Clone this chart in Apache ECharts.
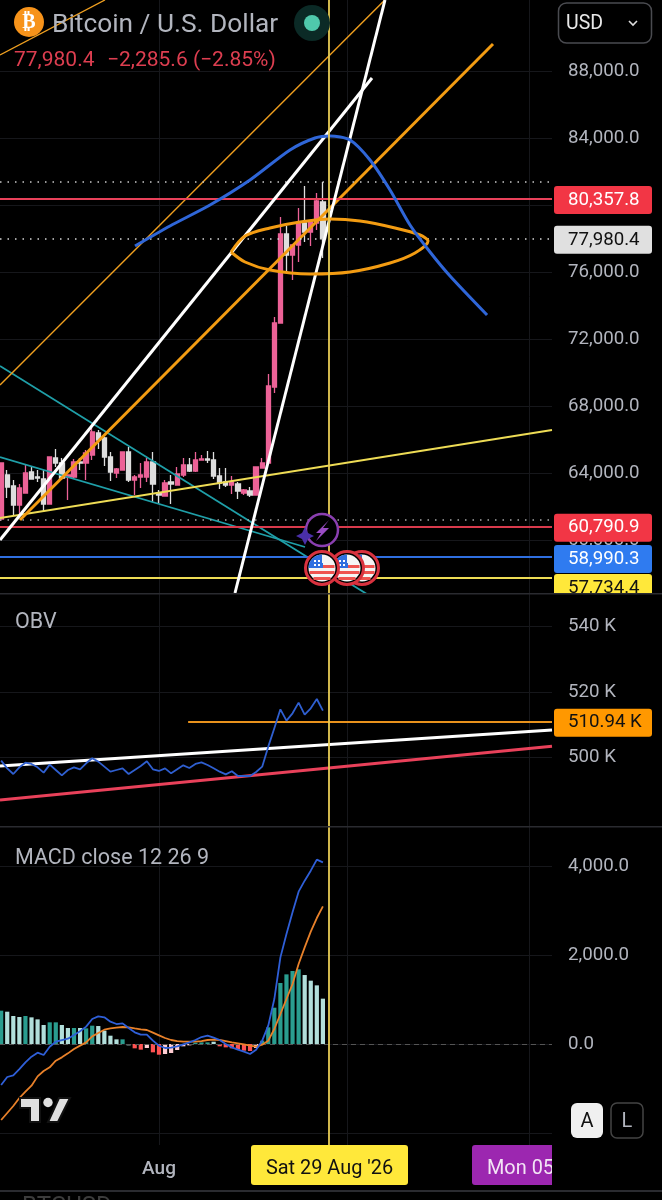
<!DOCTYPE html>
<html><head><meta charset="utf-8">
<script src="https://cdn.jsdelivr.net/npm/echarts@6/dist/echarts.min.js"></script>
<style>html,body{margin:0;padding:0;background:#000}#c{width:662px;height:1200px}</style>
</head><body><div id="c"></div>
<script>
// Day numbers: 0 = 1 Aug 2026
const firstDay = -26;
// [open, close, low, high]
const candles = [
[61254,64597,61130,64597],[63881,63164,62507,64179],[63224,62090,61493,63582],[62090,63105,61493,63343],
[62806,64000,62806,64478],[64060,63642,63642,64358],[63761,63702,63463,64179],[63642,62149,61672,64179],
[62149,64955,62149,64955],[64896,64597,64358,65433],[64597,63702,63582,64896],[63761,63881,62388,63881],
[63761,64657,63702,64836],[64657,64597,64179,64896],[64597,65194,63582,65373],[65075,66448,64776,66746],
[66388,65970,65433,66567],[66090,64955,64418,66149],[64955,64060,63522,65254],[64000,64239,63702,64299],
[64179,65254,64179,65254],[65254,63582,63463,65552],[63582,63761,62687,63881],[63761,63881,63105,64597],
[63761,64657,63463,64896],[64657,63343,62269,65254],[62806,62687,62149,62985],[62627,63403,62627,63582],
[63463,63343,62149,63881],[63284,63940,63284,64358],[63881,64478,63761,64896],[64478,64119,64060,64896],
[64119,64776,64060,65254],[64776,64836,64776,65075],[64836,64776,64597,65313],[64776,63821,63642,65254],
[63821,63403,63045,64299],[63463,63284,63164,64299],[63284,63463,62746,63821],[63343,62925,62448,63463],
[62806,62985,62687,63045],[62925,62687,62567,63164],[62687,64358,62687,64358],[64299,64597,64299,64896],
[64597,69194,64597,69910],[69134,72955,68776,73313],[72955,78268,72955,79283],[78268,77015,75940,78746],
[77015,77612,75522,77612],[77612,78925,76597,79821],[78925,78388,77791,81134],[78388,78985,77552,79104],
[78925,80238,78507,80716],[80178,77980,76836,81373]];
const obv = [499.03,496.69,494.96,497.0,498.42,498.02,497.0,495.37,497.81,496.18,494.55,496.18,497.0,496.39,498.22,499.75,
498.73,497.2,495.67,496.18,496.69,494.96,496.18,497.4,498.83,496.39,495.88,496.69,495.16,496.39,497.61,496.79,498.02,498.52,
497.71,496.69,495.67,494.86,495.78,494.35,494.35,494.35,495.57,497.2,503.31,508.9,514.71,511.25,513.49,516.74,513.08,515.0,517.86,514.3];
const hist = [749,726,629,607,629,599,554,427,487,487,427,360,360,360,352,412,404,300,187,105,105,-30,-97,-127,-90,-187,-240,-225,
-202,-135,-52,-30,30,37,37,52,-52,-75,-97,-127,-150,-157,-90,75,375,816,1371,1565,1640,1678,1550,1423,1318,1019];
// d = saturated teal, l = pale teal, r = saturated red, p = pale red
const histShade = ['d','l','l','l','d','l','l','l','d','d','l','l','d','l','d','d','l','l','l','l','d',
'l','r','r','p','r','r','p','p','p','p','p','d','d','d','l','r','r','r','r','r','r','p','d','d','d','d','d','d','d','l','l','l','l'];
const macdLine = [-921,-741,-704,-562,-412,-285,-195,-247,-60,52,90,120,202,285,390,562,622,599,502,449,464,360,262,210,210,75,-37,-90,
-82,-52,-7,37,90,157,187,142,90,0,-75,-127,-172,-225,-127,75,412,1011,1947,2472,2958,3423,3670,3895,4142,4082];
const signalLine = [-1708,-1550,-1393,-1213,-1071,-936,-727,-607,-524,-375,-300,-210,-112,-37,37,172,247,322,352,367,382,375,352,330,315,255,
195,135,90,67,52,52,52,67,90,97,90,67,37,15,-7,-37,-60,-15,75,337,674,1011,1348,1798,2172,2524,2831,3093];

const priceTicks = [88000,84000,80000,76000,72000,68000,64000,60000];
const obvTicks = [540,520,500];
const macdGridTicks = [4000,2000,0,-2000];
const macdLabelTicks = [4000,2000,0];
const monthDays = [0,31,61];
const monthLabels = ['Aug','Sep','Oct'];
const crossDay = 28;

// drawn trend lines: [day, price] end points
const thinOrangeA = [[-26.19,88955],[-8.9,92238]];
const thinOrangeB = [[-26.19,69254],[37.2,92238]];
const thickOrange = [[-22.9,61194],[55.02,89611]];
const whiteA = [[-26.19,60000],[35.09,87581]];
const whiteB = [[12.52,56836],[37.23,92238]];
const cyanA = [[-26.19,70388],[34.76,56657]];
const cyanB = [[-26.19,64955],[24.05,59582]];
const yellowTrend = [[-26.19,61314],[64.74,66567]];
const blueArc = [[-3.95,77552],[1.81,78746],[8.4,80000],[14.99,81492],[21.58,83283],[25.7,83999],[28.17,84119],[31.47,83880],
[34.76,82686],[38.06,80895],[41.35,78806],[44.65,77194],[47.94,75761],[54.04,73433]];
const ellipse = [[11.86,77194],[14.17,78149],[18.29,78627],[23.23,78985],[28.17,79164],[33.11,79044],[38.88,78627],[43.0,78209],
[44.32,77850],[42.17,77134],[38.06,76537],[31.47,76000],[24.88,75880],[18.29,76119],[14.17,76597],[11.86,77194]];
const obvWhite = [[-26.19,497.4],[64.74,508.4]];
const obvRed = [[-26.19,487.0],[64.74,503.4]];
const obvOrangeStart = 4.8;

const lastPrice = 77980.4, redUpper = 80357.8, redLower = 60790.9, bluePrice = 58990.3, yellowPrice = 57734.4, obvLast = 510.94;
const rangeHigh = 81373, rangeLow = 61200;

const xMin = -26.19, xMax = 64.74;
const FONT = 'Roboto';
const fmt1 = v => v.toLocaleString('en-US',{minimumFractionDigits:1,maximumFractionDigits:1});
const withDay = a => a.map((v,i)=>[firstDay+i,v]);

const shadeColor = {d:'#2a9d8f',l:'#b2dfdb',r:'#ff5252',p:'#ffcdd2'};
const GRID = '#16171b';
const CROSS = '#e8cc55';

function xAxis(gi, showLabel){
  return {type:'value',gridIndex:gi,min:xMin,max:xMax,
    axisLine:{show:false},axisTick:{show:false,customValues:monthDays},
    splitLine:{show:true,lineStyle:{color:GRID,width:1}},
    axisLabel:{show:showLabel,customValues:[0],margin:15,color:'#b2b5be',fontFamily:FONT,fontSize:19,fontWeight:500,
      formatter:v=>monthLabels[monthDays.indexOf(v)]||''}};
}
function yAxis(gi,min,max,ticks,labelTicks,f){
  return {type:'value',gridIndex:gi,position:'right',min,max,scale:true,
    axisLine:{show:false},axisTick:{show:false,customValues:ticks},
    splitLine:{show:true,lineStyle:{color:GRID,width:1}},
    axisLabel:{customValues:labelTicks,margin:16,color:'#b2b5be',fontFamily:FONT,fontSize:18.7,padding:[7,0,0,0],formatter:f}};
}
function line(data,color,width,gi,opt){
  return Object.assign({type:'line',xAxisIndex:gi,yAxisIndex:gi,data,showSymbol:false,symbol:'none',silent:true,animation:false,
    lineStyle:{color,width},z:6},opt||{});
}
function tag(text,bg,fg,dy){
  return {show:true,position:'end',distance:2,offset:[0,dy||1],formatter:text,backgroundColor:bg,color:fg,fontFamily:FONT,fontSize:18.7,
    padding:[6,9,5,14],width:75,borderRadius:3,lineHeight:17};
}
function hline(gi,value,color,width,type,text,bg,fg,dy){
  return {type:'line',xAxisIndex:gi,yAxisIndex:gi,data:[],silent:true,animation:false,z:7,
    markLine:{silent:true,symbol:'none',animation:false,z:7,precision:2,
      lineStyle:{color,width,type},
      label:text?tag(text,bg,fg,dy):{show:false},
      data:[{yAxis:value}]}};
}
function crosshair(gi){
  return {type:'line',xAxisIndex:gi,yAxisIndex:gi,data:[],silent:true,animation:false,z:20,
    markLine:{silent:true,symbol:'none',animation:false,z:20,lineStyle:{color:CROSS,width:1.8,type:'solid'},label:{show:false},data:[{xAxis:crossDay}]}};
}

const series = [
  {type:'candlestick',xAxisIndex:0,yAxisIndex:0,barWidth:4.8,silent:true,animation:false,z:3,
    encode:{x:0,y:[1,2,3,4]},
    data:candles.map((c,i)=>[firstDay+i].concat(c)),
    itemStyle:{color:'#ec6297',color0:'#dedede',borderColor:'#ec6297',borderColor0:'#dedede',borderWidth:1.3}},
  hline(0,rangeHigh,'#c8c8c8',1.5,[1.5,6]),
  hline(0,rangeLow,'#a8a8a8',1.5,[1.5,6]),
  hline(0,yellowPrice,'#eedc55',1.8,'solid',fmt1(yellowPrice),'#ffe83a','#111',10),
  hline(0,bluePrice,'#2f6fe0',1.8,'solid',fmt1(bluePrice),'#2f7bf0','#fff',2),
  hline(0,redLower,'#d83a4c',1.8,'solid',fmt1(redLower),'#f23645','#fff',1),
  hline(0,redUpper,'#e9415a',1.8,'solid',fmt1(redUpper),'#f23645','#fff',1),
  hline(0,lastPrice,'#d8d8d8',1.5,[1.5,6],fmt1(lastPrice),'#e0e0e0','#111',1),
  line(cyanA,'#1f9fa8',1.8,0),
  line(cyanB,'#1f9fa8',1.8,0),
  line(yellowTrend,'#eedc55',1.8,0),
  line(thinOrangeA,'#f0a020',1.4,0),
  line(thinOrangeB,'#f0a020',1.4,0),
  line(thickOrange,'#f39c12',3,0),
  line(whiteA,'#ffffff',3,0,{z:8}),
  line(whiteB,'#ffffff',3,0,{z:8}),
  line(ellipse,'#f39c12',3,0,{smooth:0.3,z:8}),
  line(blueArc,'#2f66d8',3,0,{smooth:0.25,z:8}),
  crosshair(0),

  line(withDay(obv),'#2f5fd0',1.8,1,{z:9}),
  line(obvWhite,'#ffffff',3,1),
  line(obvRed,'#e9415a',3,1),
  {type:'line',xAxisIndex:1,yAxisIndex:1,data:[],silent:true,animation:false,z:7,
    markLine:{silent:true,symbol:'none',animation:false,z:7,lineStyle:{color:'#e8921c',width:1.8,type:'solid'},
      label:tag(obvLast+' K','#ff9800','#111',1),
      data:[[{coord:[obvOrangeStart,obvLast]},{coord:[xMax,obvLast]}]]}},
  crosshair(1),

  {type:'bar',xAxisIndex:2,yAxisIndex:2,barWidth:4.2,silent:true,animation:false,z:3,
    data:hist.map((v,i)=>({value:[firstDay+i,v],itemStyle:{color:shadeColor[histShade[i]]}}))},
  hline(2,0,'#555',1,[5,4]),
  line(withDay(signalLine),'#e8812a',1.8,2,{z:7}),
  line(withDay(macdLine),'#2f5fd8',1.8,2,{z:8}),
  crosshair(2)
];

// ---- page furniture (not data marks) ----
const txt = (x,y,text,fill,size,extra)=>({type:'text',x,y,z:50,silent:true,style:Object.assign({text,fill,font:`${size}px ${FONT}`,textVerticalAlign:'middle'},extra||{})});
const rect = (x,y,w,h,fill,r,extra)=>({type:'rect',z:49,silent:true,shape:{x,y,width:w,height:h,r:r||0},style:Object.assign({fill},extra||{})});
function flag(cx,cy,z){
  const r=13.5;
  const kids=[
    {type:'circle',shape:{cx,cy,r:r+3},style:{fill:'#000',stroke:'#d9323f',lineWidth:3}},
    {type:'circle',shape:{cx,cy,r},style:{fill:'#f5f5f5'}},
    {type:'rect',shape:{x:cx-r+1,y:cy-3,width:2*r-2,height:3},style:{fill:'#ef5350'}},
    {type:'rect',shape:{x:cx-r+1,y:cy+3,width:2*r-2,height:3},style:{fill:'#ef5350'}},
    {type:'rect',shape:{x:cx-r+5,y:cy+9,width:2*r-10,height:3},style:{fill:'#ef5350'}},
    {type:'sector',shape:{cx,cy,r,startAngle:Math.PI,endAngle:Math.PI*1.5},style:{fill:'#2f6fe0'}},
    {type:'rect',shape:{x:cx-r+3,y:cy-5,width:r-2,height:5},style:{fill:'#2f6fe0'}},
    {type:'rect',shape:{x:cx-8,y:cy-8,width:2,height:2},style:{fill:'#fff'}},
    {type:'rect',shape:{x:cx-4,y:cy-8,width:2,height:2},style:{fill:'#fff'}},
    {type:'rect',shape:{x:cx-8,y:cy-4,width:2,height:2},style:{fill:'#fff'}},
    {type:'rect',shape:{x:cx-4,y:cy-4,width:2,height:2},style:{fill:'#fff'}}
  ];
  return {type:'group',z:z,silent:true,children:kids.map(k=>Object.assign(k,{z:z,silent:true}))};
}
const graphic = [
  // pane separators (the upper one also trims the last price tag, as in the original)
  rect(552,594,110,14,'#000',0),
  rect(0,593,662,1.5,'#2a2b30',0),
  rect(0,826,662,1.5,'#2a2b30',0),
  rect(0,1190,662,2,'#2a2b30',0),
  txt(22,1207,'BTCUSD','#3c3c3c',24),
  // header
  {type:'circle',z:49,silent:true,shape:{cx:29,cy:22,r:15},style:{fill:'#f7931a'}},
  txt(29,23,'₿','#fff',20,{textAlign:'center',font:'bold 20px "DejaVu Sans"'}),
  txt(52,25,'Bitcoin / U.S. Dollar','#b2b5be',26.3),
  txt(14,61,'77,980.4','#dd3e50',21),
  txt(107,61,'−2,285.6 (−2.85%)','#dd3e50',21),
  {type:'circle',z:49,silent:true,shape:{cx:312,cy:23,r:18},style:{fill:'#0b2a26'}},
  {type:'circle',z:50,silent:true,shape:{cx:312,cy:23,r:8},style:{fill:'#4fc9ac'}},
  // currency button
  rect(558.5,3,93,40,'#000',8,{stroke:'#4a4b50',lineWidth:1.5}),
  txt(566,24,'USD','#e8e8e8',19.5),
  {type:'polyline',z:50,silent:true,shape:{points:[[629,21],[633,25],[637,21]]},style:{stroke:'#ddd',lineWidth:1.6,fill:'none'}},
  // pane titles
  txt(15,623,'OBV','#b2b5be',21.5),
  txt(15,859,'MACD close 12 26 9','#b2b5be',21.5),
  // event markers
  flag(362,568,40), flag(347,568,41), flag(322,568,42),
  {type:'circle',z:40,silent:true,shape:{cx:322,cy:530,r:16},style:{fill:'#000',stroke:'#8a3fb0',lineWidth:2.5}},
  {type:'polygon',z:41,silent:true,shape:{points:[[329,520],[316,533],[321,533],[316,541],[329,528],[323,528]]},style:{fill:'#9a4cc4'}},
  {type:'polygon',z:41,silent:true,shape:{points:[[305,527],[308,533],[314,536],[308,539],[305,545],[302,539],[296,536],[302,533]]},style:{fill:'#4a2fa8'}},
  // logo
  {type:'polygon',z:49,silent:true,shape:{points:[[20,1098],[40,1098],[40,1122],[30,1122],[30,1108],[20,1108]]},style:{fill:'#e0e0e0',stroke:'#111',lineWidth:2}},
  {type:'circle',z:49,silent:true,shape:{cx:48,cy:1102.5,r:4.7},style:{fill:'#e0e0e0'}},
  {type:'polygon',z:49,silent:true,shape:{points:[[59,1098],[70,1098],[58,1122],[48,1122]]},style:{fill:'#e0e0e0',stroke:'#111',lineWidth:2}},
  // A / L buttons
  rect(571,1103,32,35,'#f0f0f0',6),
  txt(587,1122,'A','#111',20,{textAlign:'center'}),
  rect(611,1103,32,35,'#000',6,{stroke:'#444',lineWidth:1.5}),
  txt(627,1122,'L','#b2b5be',20,{textAlign:'center'}),
  // time labels
  rect(472,1145,86,40,'#9c27b0',3),
  txt(487,1169,"Mon 05 Oct '26",'#f3e5f5',19.9),
  {type:'rect',z:51,silent:true,shape:{x:552,y:1144,width:110,height:44},style:{fill:'#000'}},
  rect(251,1145,157,40,'#ffe83a',3),
  txt(329.5,1169,"Sat 29 Aug '26",'#111',19.9,{textAlign:'center'})
];

const chart = echarts.init(document.getElementById('c'),null,{renderer:'canvas'});
chart.setOption({
  backgroundColor:'#000',animation:false,
  grid:[
    {left:0,width:552,top:0,height:593},
    {left:0,width:552,top:594,height:232},
    {left:0,width:552,top:827,height:318}
  ],
  xAxis:[xAxis(0,false),xAxis(1,false),xAxis(2,true)],
  yAxis:[
    yAxis(0,56836,92238,priceTicks,priceTicks,v=>fmt1(v)),
    yAxis(1,479.08,549.92,obvTicks,obvTicks,v=>v+' K'),
    yAxis(2,-2269,4876,macdGridTicks,macdLabelTicks,v=>fmt1(v))
  ],
  series,graphic
});
</script></body></html>
